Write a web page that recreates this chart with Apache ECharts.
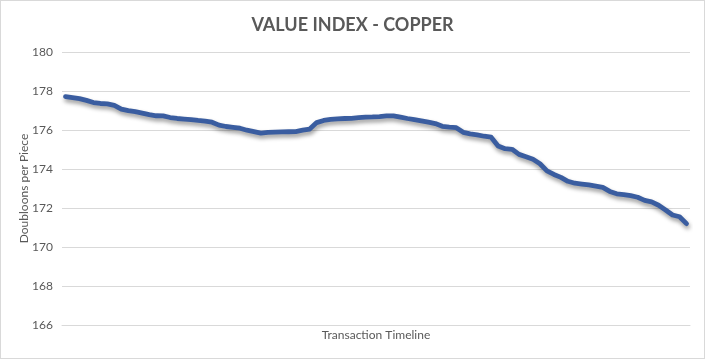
<!DOCTYPE html>
<html>
<head>
<meta charset="utf-8">
<script src="https://cdn.jsdelivr.net/npm/echarts@6/dist/echarts.min.js"></script>
<style>
html,body{margin:0;padding:0;background:#fff;}
#c{width:703px;height:357px;border:1px solid #d9d9d9;}
</style>
</head>
<body>
<div id="c"></div>
<script>
const titleText = "VALUE INDEX - COPPER";
const yAxisName = "Doubloons per Piece";
const xAxisName = "Transaction Timeline";
const yMin = 166, yMax = 180, yStep = 2;
const values = [
177.71,177.66,177.61,177.52,177.41,177.36,177.34,177.26,177.07,176.99,
176.94,176.87,176.79,176.73,176.72,176.64,176.59,176.56,176.53,176.49,
176.46,176.40,176.25,176.18,176.14,176.09,175.99,175.92,175.84,175.88,
175.89,175.90,175.91,175.92,175.99,176.05,176.38,176.49,176.54,176.57,
176.59,176.60,176.63,176.66,176.67,176.69,176.72,176.72,176.66,176.59,
176.53,176.47,176.40,176.33,176.19,176.15,176.12,175.88,175.80,175.75,
175.68,175.63,175.18,175.04,175.01,174.75,174.63,174.50,174.27,173.90,
173.72,173.57,173.37,173.27,173.23,173.18,173.12,173.06,172.85,172.73,
172.69,172.63,172.55,172.39,172.31,172.14,171.90,171.64,171.55,171.20
];
const categories = values.map((_, i) => "T" + (i + 1));

const chart = echarts.init(document.getElementById('c'));
chart.setOption({
  animation: false,
  backgroundColor: '#fff',
  title: {
    text: titleText,
    left: 'center',
    top: 10,
    textStyle: {fontFamily: 'Lato', fontWeight: 'bold', fontSize: 18, color: '#595959'}
  },
  grid: {left: 61, right: 14, top: 51, bottom: 33},
  xAxis: {
    type: 'category',
    data: categories,
    boundaryGap: true,
    name: xAxisName,
    nameLocation: 'middle',
    nameGap: 4,
    nameMoveOverlap: false,
    nameTextStyle: {fontFamily: 'Lato', fontSize: 12, color: '#595959'},
    axisLine: {show: true, lineStyle: {color: '#d9d9d9'}},
    axisTick: {show: false},
    axisLabel: {show: false}
  },
  yAxis: {
    type: 'value',
    min: yMin, max: yMax, interval: yStep,
    name: yAxisName,
    nameLocation: 'middle',
    nameGap: 32,
    nameMoveOverlap: false,
    nameTextStyle: {fontFamily: 'Lato', fontSize: 12, color: '#595959'},
    axisLine: {show: false},
    axisTick: {show: false},
    axisLabel: {fontFamily: 'Lato', fontSize: 12, color: '#595959', margin: 9},
    splitLine: {lineStyle: {color: '#d9d9d9', width: 1}}
  },
  series: [{
    type: 'line',
    data: values,
    symbol: 'none',
    lineStyle: {
      color: '#3A5DA0', width: 4.8, cap: 'round', join: 'round',
      shadowColor: 'rgba(0,0,0,0.4)', shadowBlur: 4, shadowOffsetY: 3, shadowOffsetX: 1
    }
  }]
});
</script>
</body>
</html>
